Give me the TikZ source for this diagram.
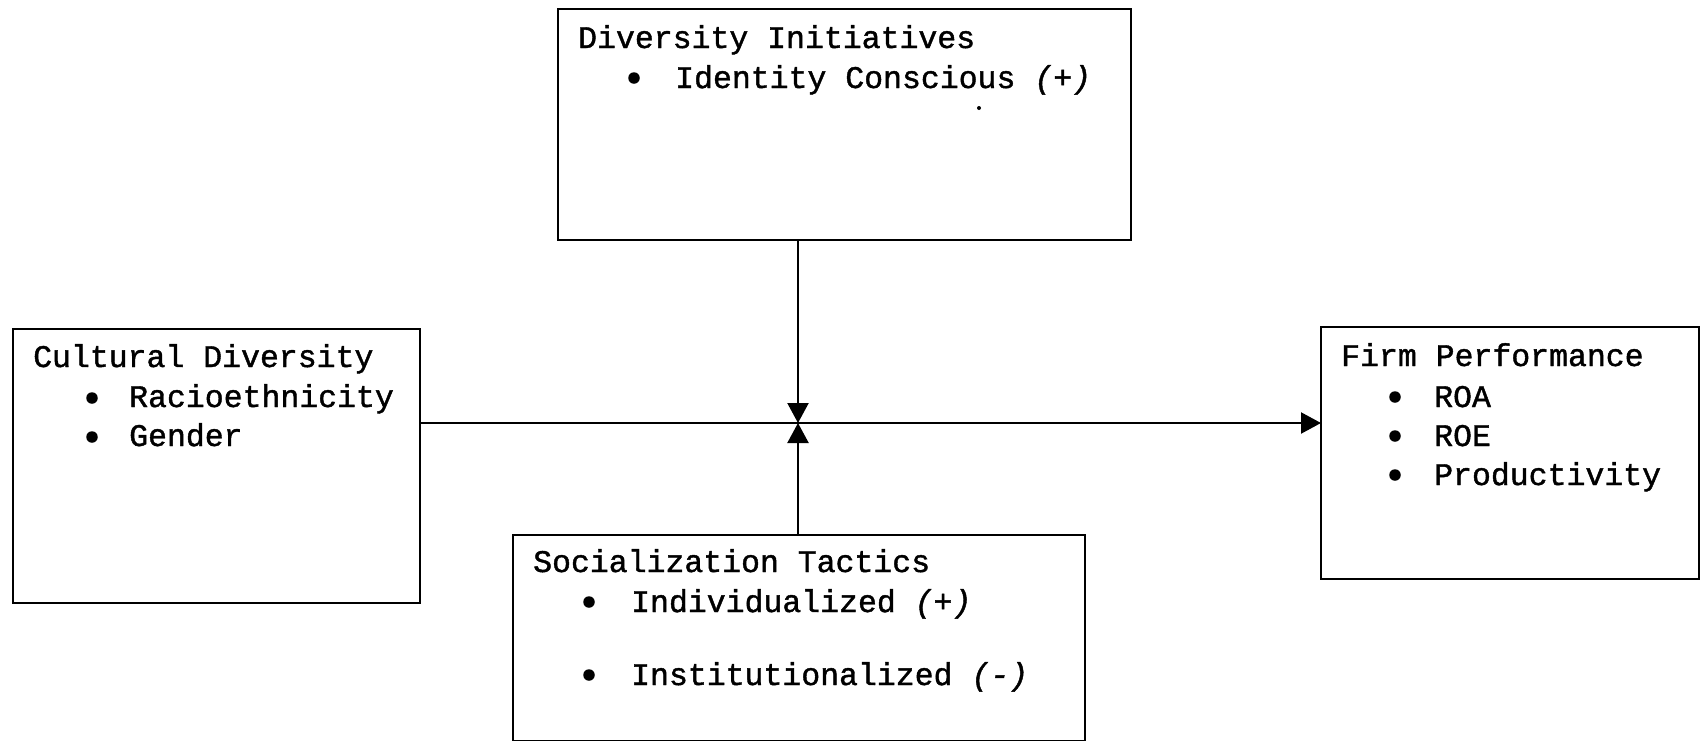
\documentclass[tikz,border=0pt]{standalone}
\usepackage{fontspec}
\setmonofont[FakeBold=1.3]{Liberation Mono}
\usetikzlibrary{arrows.meta}
\begin{document}
\begin{tikzpicture}[x=1pt,y=-1pt,
  box/.style={draw, line width=2.4pt, inner sep=0pt, outer sep=0pt, anchor=north west},
  txt/.style={anchor=base west, inner sep=0pt, font=\fontsize{31.5}{38}\selectfont\ttfamily},
  bul/.style={circle, fill, draw=none, inner sep=0pt, minimum size=11.5pt},
  conn/.style={line width=2.2pt, -{Triangle[length=20pt,width=21pt]}}]
\useasboundingbox (0,0) rectangle (1700,740);
% boxes
\node[box, minimum width=573pt, minimum height=231pt] (div) at (558,9) {};
\node[box, minimum width=407pt, minimum height=274pt] (cult) at (13,329) {};
\node[box, minimum width=378pt, minimum height=252pt] (firm) at (1321,327) {};
\node[box, minimum width=572pt, minimum height=206pt] (soc) at (513,535) {};
% Diversity Initiatives
\node[txt] (divt) at (578,48) {Diversity Initiatives};
\node[bul] (divb1) at (634,78) {};
\node[txt] (divi1) at (675,88) {Identity Conscious \textit{(+)}};
\fill (979,108) circle (2pt);
% Cultural Diversity
\node[txt] (cultt) at (33,367) {Cultural Diversity};
\node[bul] (cultb1) at (92,398) {};
\node[txt] (culti1) at (129,407) {Racioethnicity};
\node[bul] (cultb2) at (92,437) {};
\node[txt] (culti2) at (129,446) {Gender};
% Firm Performance
\node[txt] (firmt) at (1341,366) {Firm Performance};
\node[bul] (firmb1) at (1395,397) {};
\node[txt] (firmi1) at (1434,407) {ROA};
\node[bul] (firmb2) at (1395,436) {};
\node[txt] (firmi2) at (1434,446) {ROE};
\node[bul] (firmb3) at (1395,475) {};
\node[txt] (firmi3) at (1434,485) {Productivity};
% Socialization Tactics
\node[txt] (soct) at (533,572) {Socialization Tactics};
\node[bul] (socb1) at (589,602) {};
\node[txt] (soci1) at (631,612) {Individualized \textit{(+)}};
\node[bul] (socb2) at (589,675) {};
\node[txt] (soci2) at (631,685) {Institutionalized \textit{(-)}};
% connectors
\coordinate (J) at (798,423);
\draw[conn] (div.south -| J) -- (J);
\draw[conn] (soc.north -| J) -- (J);
\draw[conn] (cult.east |- J) -- (firm.west |- J);
\end{tikzpicture}
\end{document}
